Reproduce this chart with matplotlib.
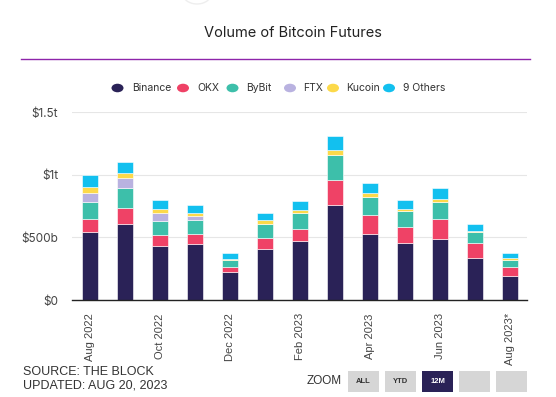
import matplotlib
matplotlib.use("Agg")
import matplotlib.pyplot as plt
from matplotlib.patches import Circle, FancyBboxPatch
import numpy as np

months = ["Aug 2022", "Sep 2022", "Oct 2022", "Nov 2022", "Dec 2022", "Jan 2023",
          "Feb 2023", "Mar 2023", "Apr 2023", "May 2023", "Jun 2023", "Jul 2023", "Aug 2023*"]
binance = [539, 603, 427, 443, 221, 403, 467, 755, 523, 451, 483, 339, 195]
okx     = [104, 128,  88,  80,  40,  90,  98, 202, 152, 130, 162, 112,  72]
bybit   = [136, 160, 112, 112,  56, 110, 126, 198, 144, 126, 136,  88,  56]
ftx     = [ 77,  82,  69,  32,   3,   0,   0,   0,   0,   0,   0,   0,   0]
kucoin  = [ 43,  40,  29,  26,  11,  32,  26,  42,  32,  21,  24,  10,  10]
others  = [ 98,  88,  75,  64,  42,  58,  75, 115,  82,  72,  88,  56,  40]

series = [("Binance", binance, "#2a2257"), ("OKX", okx, "#ef4266"),
          ("ByBit", bybit, "#3dbfaa"), ("FTX", ftx, "#b9b2e0"),
          ("Kucoin", kucoin, "#fcd94a"), ("9 Others", others, "#12c0ef")]
yticks = [0, 500, 1000, 1500]
ytick_labels = ["$0", "$500b", "$1t", "$1.5t"]

UI = ["Inter", "DejaVu Sans"]
ARIAL = ["Liberation Sans", "DejaVu Sans"]

W, H = 556, 397
fig = plt.figure(figsize=(W / 100, H / 100), dpi=100)
fig.patch.set_facecolor("white")

def fx(px): return px / W
def fy(py): return 1 - py / H

ax = fig.add_axes([fx(72), fy(300), fx(527) - fx(72), fy(112) - fy(300)])
x = np.arange(len(months))
bottom = np.zeros(len(months))
for name, vals, col in series:
    v = np.array(vals, dtype=float)
    ax.bar(x, v, bottom=bottom, width=0.46, color=col, edgecolor="white", linewidth=0.4, zorder=3)
    bottom += v

ax.set_xlim(-0.514, 12.486)
ax.set_ylim(0, 1500)
ax.set_yticks(yticks)
ax.set_yticklabels(ytick_labels, fontsize=8.5, color="#444444", family=UI)
ax.yaxis.grid(True, color="#e6e6e6", linewidth=0.8, zorder=0)
ax.set_xticks(x[::2])
ax.set_xticklabels(months[::2], rotation=90, fontsize=8, color="#444444", family=ARIAL)
ax.tick_params(axis="both", length=0)
ax.tick_params(axis="x", pad=9.5)
ax.tick_params(axis="y", pad=10)
for s in ["top", "right", "left"]:
    ax.spines[s].set_visible(False)
ax.spines["bottom"].set_color("#222222")
ax.spines["bottom"].set_linewidth(1.0)
ax.spines["bottom"].set_zorder(4)

# Title and divider
fig.text(fx(292.5), fy(33), "Volume of Bitcoin Futures", ha="center", va="center",
         fontsize=10.5, color="#222222", family=UI)
fig.add_artist(plt.Line2D([fx(21), fx(530)], [fy(59), fy(59)], color="#8e24aa", linewidth=1.0))

# Legend
leg_items = [(117.5, 132), (183, 197), (232.5, 246), (290, 303), (333, 346), (389, 403)]
for (cx, tx), (name, _, col) in zip(leg_items, series):
    fig.add_artist(Circle((fx(cx), fy(88)), radius=6 / W, transform=fig.transFigure,
                          facecolor=col, edgecolor="none"))
    fig.text(fx(tx), fy(88), name, ha="left", va="center", fontsize=7.5, color="#333333", family=UI)

# top circle fragment
fig.add_artist(Circle((fx(197), fy(-6)), radius=14 / W, transform=fig.transFigure,
                      facecolor="white", edgecolor="#eeeeee", linewidth=1.0))

# Source text
fig.text(fx(23), fy(372), "SOURCE: THE BLOCK", ha="left", va="center", fontsize=9,
         color="#333333", family=ARIAL)
fig.text(fx(23), fy(386), "UPDATED: AUG 20, 2023", ha="left", va="center", fontsize=9,
         color="#333333", family=ARIAL)

# Zoom buttons
fig.text(fx(324), fy(381), "ZOOM", ha="center", va="center", fontsize=8.5, color="#333333", family=ARIAL)
buttons = [(348, "ALL"), (385, "YTD"), (422, "12M"), (459, ""), (496, "")]
for bx, lab in buttons:
    active = lab == "12M"
    fig.add_artist(FancyBboxPatch((fx(bx), fy(392)), 31 / W, 21 / H, transform=fig.transFigure,
                                  boxstyle="square,pad=0", facecolor="#2a2257" if active else "#d6d6d6",
                                  edgecolor="none"))
    if lab:
        fig.text(fx(bx + 15.5), fy(381.5), lab, ha="center", va="center", fontsize=5.5,
                 fontweight="bold", color="white" if active else "#333333", family=ARIAL)

fig.savefig("out.png", dpi=100, facecolor="white")
